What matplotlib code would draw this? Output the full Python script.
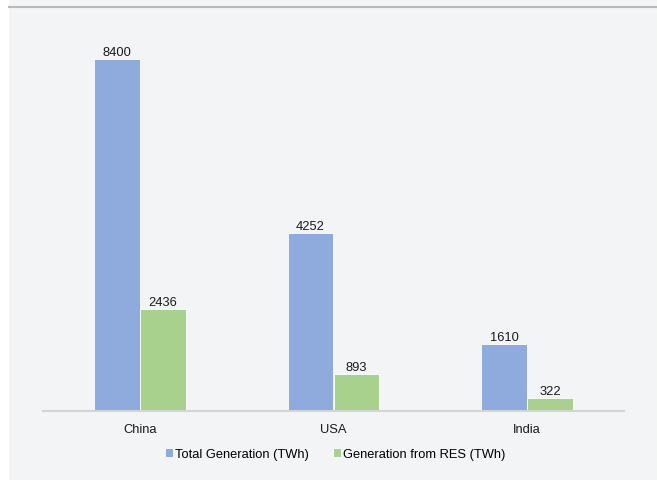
import matplotlib.pyplot as plt
import numpy as np

plt.rcParams['font.family'] = ['Liberation Sans', 'DejaVu Sans']

countries = ["China", "USA", "India"]
total_gen = [8400, 4252, 1610]
res_gen = [2436, 893, 322]
series_names = ["Total Generation (TWh)", "Generation from RES (TWh)"]

BLUE = "#8faadc"
GREEN = "#a9d18e"
BG = "#f3f4f6"
FS = 9.3

fig = plt.figure(figsize=(6.57, 4.81), dpi=100)
fig.patch.set_facecolor("white")

# grey panel with a rule along its top edge
fig.patches.append(plt.Rectangle((9 / 657, 0), 1, 1, transform=fig.transFigure,
                                 facecolor=BG, edgecolor="none", zorder=-2))
fig.add_artist(plt.Line2D([9 / 657, 1], [1 - 8 / 481] * 2, transform=fig.transFigure,
                          color="#b8b8b8", lw=1.5))

ax = fig.add_axes([43 / 657, 69 / 481, 581 / 657, 377 / 481])
ax.set_facecolor(BG)

x = np.arange(len(countries))
w = 0.237
b1 = ax.bar(x - w / 2, total_gen, w, color=BLUE, edgecolor="white", linewidth=0.6,
            label=series_names[0])
b2 = ax.bar(x + w / 2, res_gen, w, color=GREEN, edgecolor="white", linewidth=0.6,
            label=series_names[1])
for bars in (b1, b2):
    ax.bar_label(bars, labels=[str(v) for v in bars.datavalues], padding=0.5,
                 fontsize=FS, color="#1a1a1a")

ax.set_xlim(-0.5, 2.5)
ax.set_ylim(0, 9000)
ax.set_yticks([])
ax.set_xticks(x)
ax.set_xticklabels(countries, fontsize=FS, color="#1a1a1a")
ax.tick_params(axis="x", length=0, pad=9)
for s in ("top", "right", "left"):
    ax.spines[s].set_visible(False)
ax.spines["bottom"].set_color("#d4d4d4")
ax.spines["bottom"].set_linewidth(1.5)

fig.legend(loc="center", bbox_to_anchor=(335 / 657, 1 - 455 / 481), ncol=2,
           frameon=False, fontsize=FS, handlelength=0.6, handleheight=0.6,
           handletextpad=0.15, columnspacing=1.9)

fig.savefig("out.png", dpi=100)
